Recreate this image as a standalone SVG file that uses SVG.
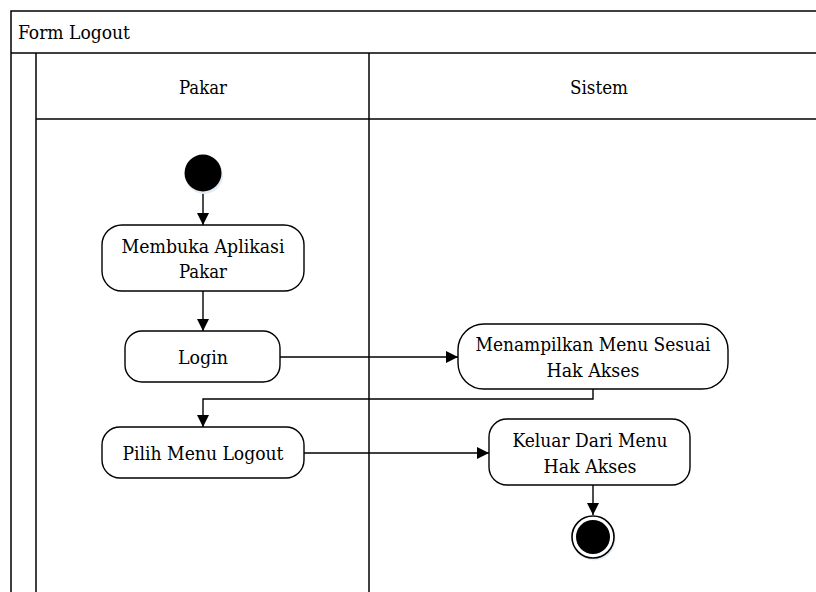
<svg xmlns="http://www.w3.org/2000/svg" width="816" height="592" viewBox="0 0 816 592">
<style>
.ln{fill:none;stroke:#000;stroke-width:1.5}
.box{fill:#fff;stroke:#000;stroke-width:1.4}
text{font-family:'DejaVu Serif Condensed','DejaVu Serif',serif;font-size:18.5px;fill:#000}
.c{text-anchor:middle}
.e{fill:none;stroke:#000;stroke-width:1.4}
</style>
<defs>
<marker id="arr" viewBox="0 0 12 12" refX="12" refY="6" markerWidth="12" markerHeight="12" markerUnits="userSpaceOnUse" orient="auto">
<path d="M0,0 L12,6 L0,12 Z" fill="#000"/>
</marker>
</defs>
<rect width="816" height="592" fill="#fff"/>
<g id="pool">
<rect class="ln" x="11" y="11" width="830" height="600"/>
<line class="ln" x1="11" y1="53" x2="841" y2="53"/>
<text x="18" y="39" textLength="112" lengthAdjust="spacingAndGlyphs">Form Logout</text>
<line class="ln" x1="36" y1="53" x2="36" y2="600"/>
<line class="ln" x1="36" y1="119" x2="841" y2="119"/>
<line class="ln" x1="369" y1="53" x2="369" y2="600"/>
</g>
<g id="lane-pakar"><text class="c" x="203" y="94" textLength="48" lengthAdjust="spacingAndGlyphs">Pakar</text></g>
<g id="lane-sistem"><text class="c" x="599" y="94" textLength="58" lengthAdjust="spacingAndGlyphs">Sistem</text></g>
<g id="connectors">
<line class="e" x1="203" y1="191" x2="203" y2="225" marker-end="url(#arr)"/>
<line class="e" x1="203" y1="291" x2="203" y2="331" marker-end="url(#arr)"/>
<line class="e" x1="280" y1="357" x2="458" y2="357" marker-end="url(#arr)"/>
<polyline class="e" points="593,389 593,399 203,399 203,427" marker-end="url(#arr)"/>
<line class="e" x1="304" y1="453" x2="489" y2="453" marker-end="url(#arr)"/>
<line class="e" x1="593" y1="485" x2="593" y2="515" marker-end="url(#arr)"/>
</g>
<g id="start">
<circle cx="204" cy="175" r="19" fill="#e3ecf4"/>
<circle cx="203" cy="173" r="18.5" fill="#000"/>
</g>
<g id="membuka">
<rect class="box" x="102" y="225" width="202" height="66" rx="20"/>
<text class="c" x="203" y="253" textLength="163" lengthAdjust="spacingAndGlyphs">Membuka Aplikasi</text>
<text class="c" x="203" y="278" textLength="48" lengthAdjust="spacingAndGlyphs">Pakar</text>
</g>
<g id="login">
<rect class="box" x="125" y="331" width="155" height="51" rx="17"/>
<text class="c" x="203" y="364" textLength="50" lengthAdjust="spacingAndGlyphs">Login</text>
</g>
<g id="menampilkan">
<rect class="box" x="458" y="324" width="270" height="65" rx="26"/>
<text class="c" x="593" y="351" textLength="235" lengthAdjust="spacingAndGlyphs">Menampilkan Menu Sesuai</text>
<text class="c" x="593" y="377" textLength="93" lengthAdjust="spacingAndGlyphs">Hak Akses</text>
</g>
<g id="pilih">
<rect class="box" x="102" y="427" width="202" height="51" rx="18"/>
<text class="c" x="203" y="460" textLength="161" lengthAdjust="spacingAndGlyphs">Pilih Menu Logout</text>
</g>
<g id="keluar">
<rect class="box" x="489" y="419" width="201" height="66" rx="18"/>
<text class="c" x="590" y="447" textLength="155" lengthAdjust="spacingAndGlyphs">Keluar Dari Menu</text>
<text class="c" x="590" y="473" textLength="93" lengthAdjust="spacingAndGlyphs">Hak Akses</text>
</g>
<g id="end">
<circle cx="594" cy="539" r="21.5" fill="#e3ecf4"/>
<circle cx="593" cy="537" r="21" fill="#fff" stroke="#000" stroke-width="1.6"/>
<circle cx="593" cy="537" r="17" fill="#000"/>
</g>
</svg>
